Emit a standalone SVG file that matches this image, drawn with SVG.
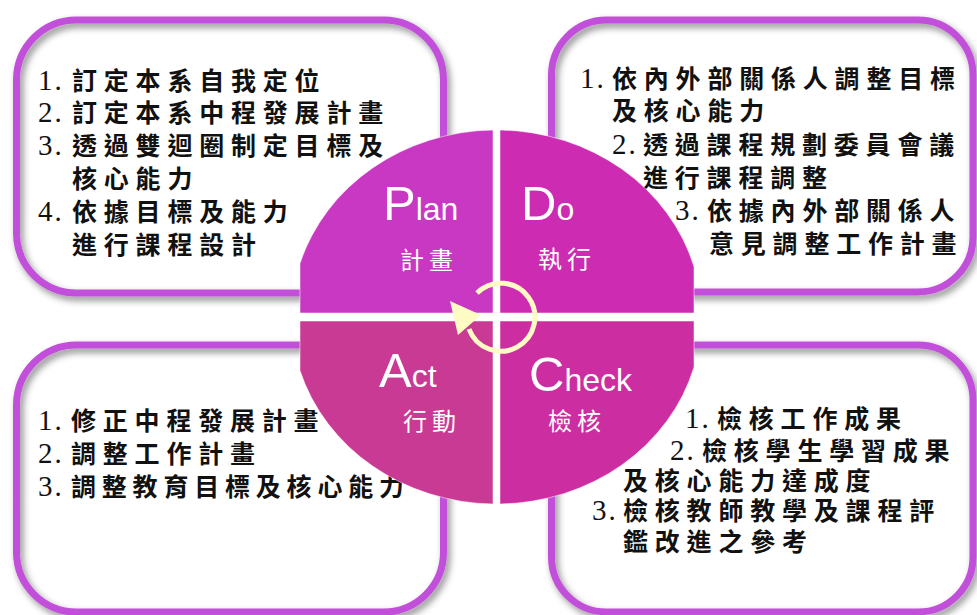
<svg xmlns="http://www.w3.org/2000/svg" width="977" height="615" viewBox="0 0 977 615">
<defs>
<filter id="sh" x="-10%" y="-10%" width="120%" height="120%">
<feDropShadow dx="3" dy="4" stdDeviation="3.5" flood-color="#000" flood-opacity="0.45"/>
</filter>
</defs>
<style>
.bg{fill:#fff}
.frame{fill:none;stroke:#C24FD9;stroke-width:7}
.t{font-family:"Noto Sans CJK TC",sans-serif;font-size:25px;font-weight:bold;letter-spacing:6.8px;fill:#111}
.n{font-family:"Liberation Serif","Noto Sans CJK TC",serif;font-size:29px;letter-spacing:2px;fill:#111}
.q{stroke:#fff;stroke-opacity:0.5;stroke-width:1}
.big{font-family:"Liberation Sans",Arial,sans-serif;font-size:49px;fill:#fff}
.sm{font-family:"Liberation Sans",Arial,sans-serif;font-size:32px;fill:#fff}
.lab{font-family:"Noto Sans CJK TC",sans-serif;font-size:24px;letter-spacing:5px;fill:#fff}
</style>
<rect width="977" height="615" fill="#fff"/>

<g id="box-plan">
<rect class="bg" x="16.5" y="20" width="427" height="273" rx="60"/>
<rect class="frame" x="16.5" y="20" width="427" height="273" rx="60" filter="url(#sh)"/>
<text class="n" x="38" y="90">1.</text><text class="t" x="72" y="90">訂定本系自我定位</text>
<text class="n" x="38" y="122">2.</text><text class="t" x="72" y="122">訂定本系中程發展計畫</text>
<text class="n" x="38" y="155">3.</text><text class="t" x="72" y="155">透過雙迴圈制定目標及</text>
<text class="t" x="72" y="188">核心能力</text>
<text class="n" x="38" y="221">4.</text><text class="t" x="72" y="221">依據目標及能力</text>
<text class="t" x="72" y="254">進行課程設計</text>
</g>

<g id="box-do">
<rect class="bg" x="551.5" y="20" width="421.5" height="272" rx="55"/>
<rect class="frame" x="551.5" y="20" width="421.5" height="272" rx="55" filter="url(#sh)"/>
<text class="n" x="580" y="88">1.</text><text class="t" x="612" y="88">依內外部關係人調整目標</text>
<text class="t" x="612" y="120">及核心能力</text>
<text class="n" x="612" y="154">2.</text><text class="t" x="643" y="154">透過課程規劃委員會議</text>
<text class="t" x="643" y="187">進行課程調整</text>
<text class="n" x="675" y="220">3.</text><text class="t" x="707" y="220">依據內外部關係人</text>
<text class="t" x="709" y="253">意見調整工作計畫</text>
</g>

<g id="box-act">
<rect class="bg" x="16.5" y="345" width="427" height="267" rx="60"/>
<rect class="frame" x="16.5" y="345" width="427" height="267" rx="60" filter="url(#sh)"/>
<text class="n" x="38" y="430">1.</text><text class="t" x="71" y="430">修正中程發展計畫</text>
<text class="n" x="38" y="463">2.</text><text class="t" x="71" y="463">調整工作計畫</text>
<text class="n" x="38" y="496">3.</text><text class="t" x="71" y="496" style="letter-spacing:5.8px">調整教育目標及核心能力</text>
</g>

<g id="box-check">
<rect class="bg" x="551.5" y="345" width="421.5" height="267" rx="55"/>
<rect class="frame" x="551.5" y="345" width="421.5" height="267" rx="55" filter="url(#sh)"/>
<text class="n" x="685" y="428">1.</text><text class="t" x="717" y="428">檢核工作成果</text>
<text class="n" x="670" y="460">2.</text><text class="t" x="702" y="460">檢核學生學習成果</text>
<text class="t" x="623" y="490">及核心能力達成度</text>
<text class="n" x="592" y="520">3.</text><text class="t" x="623" y="520">檢核教師教學及課程評</text>
<text class="t" x="623" y="551">鑑改進之參考</text>
</g>

<g id="quad-plan">
<path class="q" d="M493 313 L300 313 L300 263.4 A205 187 0 0 1 493 130 Z" fill="#C838C3"/>
<text x="383" y="220"><tspan class="big">P</tspan><tspan class="sm">lan</tspan></text>
<text class="lab" x="400" y="269">計畫</text>
</g>
<g id="quad-do">
<path class="q" d="M500 313 L500 130 A205 187 0 0 1 694 266.9 L694 313 Z" fill="#CC2BB2"/>
<text x="521" y="220"><tspan class="big">D</tspan><tspan class="sm">o</tspan></text>
<text class="lab" x="538" y="268">執行</text>
</g>
<g id="quad-act">
<path class="q" d="M493 321 L493 504 A205 187 0 0 1 300 370.6 L300 321 Z" fill="#C83A93"/>
<text x="379" y="387"><tspan class="big">A</tspan><tspan class="sm">ct</tspan></text>
<text class="lab" x="403" y="430">行動</text>
</g>
<g id="quad-check">
<path class="q" d="M500 321 L694 321 L694 367.1 A205 187 0 0 1 500 504 Z" fill="#CC2EA1"/>
<text x="529" y="391"><tspan class="big">C</tspan><tspan class="sm">heck</tspan></text>
<text class="lab" x="548" y="430">檢核</text>
</g>

<g id="connectors">
<path d="M477 293 A34 34 0 1 1 469 329" fill="none" stroke="#FFFBC4" stroke-width="5"/>
<polygon points="450,301 481,315 458,335" fill="#FFFBC4"/>
</g>
</svg>
